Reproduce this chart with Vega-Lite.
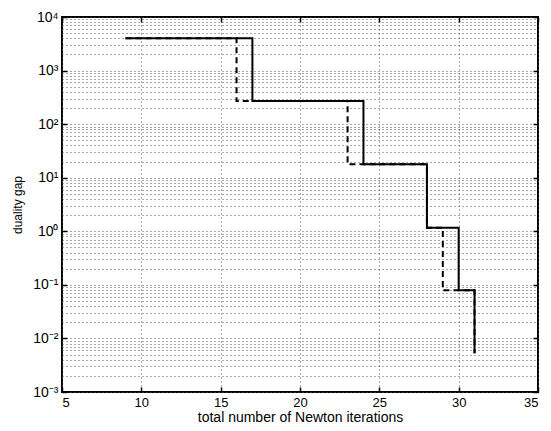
{
  "$schema": "https://vega.github.io/schema/vega-lite/v6.json",
  "width": 476,
  "height": 375,
  "autosize": {"type": "none"},
  "padding": {"left": 62, "top": 17, "right": 13, "bottom": 39},
  "background": "white",
  "config": {
    "view": {"stroke": "black", "strokeWidth": 2},
    "font": "Liberation Sans",
    "axis": {
      "labelFont": "Liberation Sans",
      "titleFont": "Liberation Sans",
      "labelFontSize": 13,
      "labelColor": "black",
      "titleColor": "black",
      "titleFontWeight": "normal",
      "domain": false,
      "tickColor": "black",
      "tickWidth": 1.5,
      "gridColor": "#555555",
      "gridDash": [1, 3],
      "gridWidth": 1,
      "gridOpacity": 1
    }
  },
  "datasets": {
    "gap": [
      {"series": "solid", "iter": 9, "gap": 4000},
      {"series": "solid", "iter": 17, "gap": 270},
      {"series": "solid", "iter": 24, "gap": 17.8},
      {"series": "solid", "iter": 28, "gap": 1.17},
      {"series": "solid", "iter": 30, "gap": 0.079},
      {"series": "solid", "iter": 31, "gap": 0.0053},
      {"series": "dashed", "iter": 9, "gap": 4000},
      {"series": "dashed", "iter": 16, "gap": 270},
      {"series": "dashed", "iter": 23, "gap": 17.8},
      {"series": "dashed", "iter": 28, "gap": 1.17},
      {"series": "dashed", "iter": 29, "gap": 0.079},
      {"series": "dashed", "iter": 31, "gap": 0.0053}
    ]
  },
  "data": {"name": "gap"},
  "resolve": {"axis": {"x": "independent", "y": "independent"}},
  "layer": [
    {
      "transform": [{"filter": "datum.series === 'dashed'"}],
      "mark": {"type": "line", "interpolate": "step-after", "color": "black", "strokeWidth": 2, "strokeDash": [6, 4], "clip": true},
      "encoding": {
        "x": {
          "field": "iter", "type": "quantitative",
          "scale": {"domain": [5, 35], "nice": false, "zero": false},
          "axis": {
            "orient": "bottom",
            "values": [5, 10, 15, 20, 25, 30, 35],
            "title": "total number of Newton iterations",
            "titleFontSize": 14,
            "titlePadding": 1,
            "tickSize": -5,
            "labelPadding": 9,
            "grid": true
          }
        },
        "y": {
          "field": "gap", "type": "quantitative",
          "scale": {"type": "log", "domain": [0.001, 10000], "nice": false},
          "axis": {
            "orient": "left",
            "values": [0.001,0.002,0.003,0.004,0.005,0.006,0.007,0.008,0.009,0.01,0.02,0.03,0.04,0.05,0.06,0.07,0.08,0.09,0.1,0.2,0.3,0.4,0.5,0.6,0.7,0.8,0.9,1,2,3,4,5,6,7,8,9,10,20,30,40,50,60,70,80,90,100,200,300,400,500,600,700,800,900,1000,2000,3000,4000,5000,6000,7000,8000,9000,10000],
            "labelExpr": "abs(log(datum.value)/LN10 - round(log(datum.value)/LN10)) < 0.001 ? '10' + (round(log(datum.value)/LN10) < 0 ? '⁻' : '') + ['⁰','¹','²','³','⁴','⁵','⁶','⁷','⁸','⁹'][abs(round(log(datum.value)/LN10))] : ''",
            "tickSize": -5,
            "tickOpacity": {"condition": {"test": "abs(log(datum.value)/LN10 - round(log(datum.value)/LN10)) < 0.001", "value": 1}, "value": 0},
            "labelPadding": 9,
            "labelFontSize": 14,
            "title": "duality gap",
            "titleFontSize": 12,
            "titlePadding": 8,
            "grid": true
          }
        }
      }
    },
    {
      "transform": [{"filter": "datum.series === 'solid'"}],
      "mark": {"type": "line", "interpolate": "step-after", "color": "black", "strokeWidth": 2, "clip": true},
      "encoding": {
        "x": {"field": "iter", "type": "quantitative",
          "axis": {"orient": "top", "values": [5, 10, 15, 20, 25, 30, 35], "labels": false, "title": null, "tickSize": -5, "grid": false}},
        "y": {"field": "gap", "type": "quantitative",
          "axis": {"orient": "right", "values": [0.001,0.01,0.1,1,10,100,1000,10000], "labels": false, "title": null, "tickSize": -5, "grid": false}}
      }
    }
  ]
}
